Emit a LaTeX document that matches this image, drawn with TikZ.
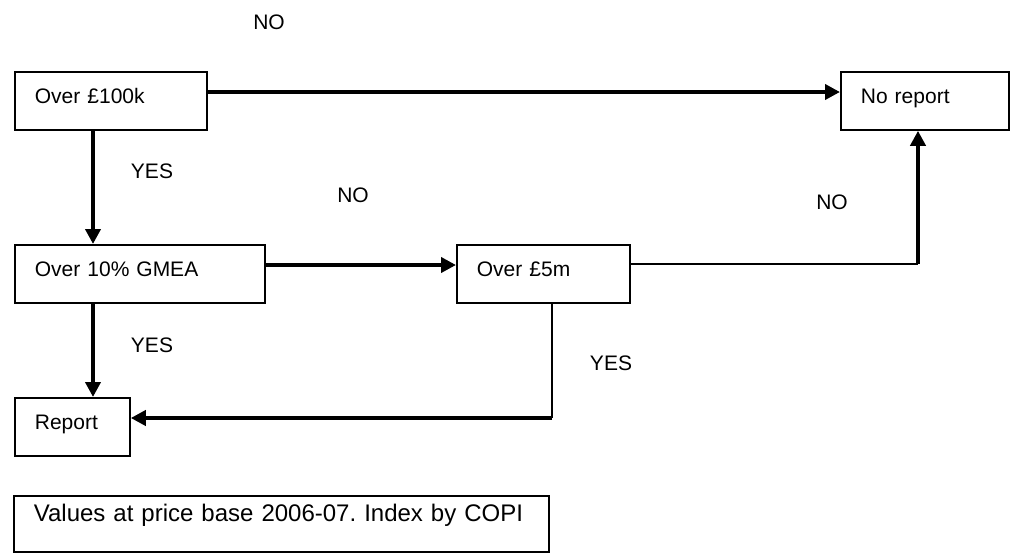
\documentclass[tikz,border=0pt]{standalone}
\usepackage{fontspec}
\setmainfont{Liberation Sans}
\usetikzlibrary{arrows.meta}
\frenchspacing

\begin{document}
\begin{tikzpicture}[x=1pt,y=-1pt,
    every node/.style={font=\fontsize{21}{25}\selectfont},
    box/.style={draw=black,line width=1.8pt,inner xsep=20pt,inner ysep=0pt,minimum height=58pt,
        align=left,text height=15pt,text depth=10pt,anchor=north west},
    flow/.style={line width=4pt,-{Triangle[length=15pt,width=15pt]}},
    link/.style={line width=1.6pt},
    ]
    \useasboundingbox (0,0) rectangle (1010,552);
    % decision boxes
    \node[box,text width=152pt] (over100k) at (14,71) {Over £100k};
    \node[box,text width=128pt] (noreport) at (840,71) {No report};
    \node[box,text width=210pt] (gmea) at (14,244) {Over 10\% GMEA};
    \node[box,text width=133pt] (over5m) at (456,244) {Over £5m};
    \node[box,text width=75pt] (report) at (14,397) {Report};
    \node[box,text width=495pt,minimum height=56pt,text height=18pt,text depth=22pt,
        font=\fontsize{24}{29}\selectfont] (values) at (13,495) {Values at price base 2006-07. Index by COPI};
    % answers
    \node (no1) at (269,22) {NO};
    \node (yes1) at (152,171) {YES};
    \node (no2) at (353,195) {NO};
    \node (no3) at (832,202) {NO};
    \node (yes2) at (152,345) {YES};
    \node (yes3) at (611,363) {YES};
    % connectors
    \coordinate (bend1) at (918,264);
    \coordinate (bend2) at (552,418);
    \draw[flow] ([yshift=-21pt]over100k.north east) -- ([yshift=-21pt]noreport.north west);
    \draw[flow] ([xshift=79pt]over100k.south west) -- ([xshift=79pt]gmea.north west);
    \draw[flow] ([yshift=-21pt]gmea.north east) -- ([yshift=-21pt]over5m.north west);
    \draw[link] ([yshift=-20pt]over5m.north east) -- (bend1);
    \draw[flow] (bend1) -- (noreport.south -| bend1);
    \draw[flow] ([xshift=79pt]gmea.south west) -- ([xshift=79pt]report.north west);
    \draw[link] (over5m.south -| bend2) -- (bend2);
    \draw[flow] (bend2) -- (report.east |- bend2);
\end{tikzpicture}
\end{document}
